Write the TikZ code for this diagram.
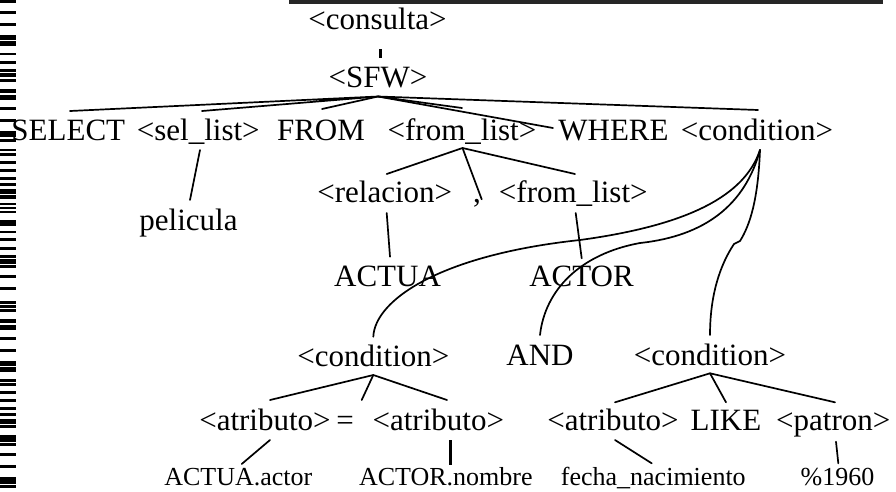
\documentclass[tikz,border=0pt]{standalone}
\usepackage{fontspec}
\setmainfont{Liberation Serif}
\begin{document}
\begin{tikzpicture}[x=1pt,y=-1pt,
  lbl/.style={inner sep=0pt,anchor=base,font=\fontsize{31}{31}\selectfont},
  small/.style={inner sep=0pt,anchor=base,font=\fontsize{26}{26}\selectfont},
  edge/.style={line width=1.7pt,line cap=round},
  bar/.style={line width=3pt}]
\useasboundingbox (0,0) rectangle (896,491);
% scan artefacts
\fill[black!85] (289,0) rectangle (883,4);
\foreach \a/\b in {0/2.7,11/13.7,22.7/25.7,35/40,41/45.7,52.7/55.3,61/64,69/71.7,72.7/77.3,79/82.3,88.7/93.3,95/100,106.7/110,118.7/122,130.7/137.3,139.3/142,148.7/151.3,153.3/156,161/164,169/172,176.7/180,182.7/185.7,189.3/194,195/198.7,202.7/205.3,206.7/209.3,211/213.3,220/226,230.7/233.3,238.3/241.3,246.7/250,255/257.7,259/264,265/267.7,275/278,286.7/289.7,301/303.7,305.3/308,309/312,319/323.3,325/330,337/340,349/352,361/365.7,367/372,379/382,383.3/386,391/393.7,399/402,406.7/409.7,412.7/415.7,419.3/424,425.3/428,435/441.7,442.7/445.7,452.7/455.7,465/468,477/484,485/488}
  \fill[black] (0,\a) rectangle (16,\b);
% nodes
\node[lbl] (cons) at (377.5,29.5) {<consulta>};
\node[lbl] (sfw) at (378,87.3) {<SFW>};
\node[lbl] (sel) at (68.3,140) {SELECT};
\node[lbl] (sellist) at (198.3,140) {<sel\_list>};
\node[lbl] (from) at (321,140) {FROM};
\node[lbl] (fl1) at (462,140) {<from\_list>};
\node[lbl] (where) at (613.5,140) {WHERE};
\node[lbl] (cond) at (757,140) {<condition>};
\node[lbl] (peli) at (188.5,230) {pelicula};
\node[lbl] (rel) at (384.8,202.7) {<relacion>};
\node[lbl] (comma) at (477,202.7) {,};
\node[lbl] (fl2) at (573.3,202.7) {<from\_list>};
\node[lbl] (actua) at (387.5,286.7) {ACTUA};
\node[lbl] (actor) at (581.5,286.7) {ACTOR};
\node[lbl] (condL) at (373.3,366) {<condition>};
\node[lbl] (and) at (540,365) {AND};
\node[lbl] (condR) at (710,365) {<condition>};
\node[lbl] (at1) at (265,430) {<atributo>};
\node[lbl] (eq) at (345,430) {=};
\node[lbl] (at2) at (438.3,430) {<atributo>};
\node[lbl] (at3) at (613,430) {<atributo>};
\node[lbl] (like) at (726,430) {LIKE};
\node[lbl] (pat) at (833.3,430) {<patron>};
\node[small] (v1) at (238.3,485.5) {ACTUA.actor};
\node[small] (v2) at (445.8,485.5) {ACTOR.nombre};
\node[small] (v3) at (653.3,485.5) {fecha\_nacimiento};
\node[small] (v4) at (837.5,485.5) {\%1960};
% connectors
\draw[bar] ([shift={(2.5,19.5)}]cons.base) -- ([shift={(2,-29)}]sfw.base);
\draw[edge] ([shift={(1.7,-29)}]sel.base) -- ([shift={(0,9.2)}]sfw.base)
  -- ([shift={(3.7,-29)}]sellist.base);
\draw[edge] ([shift={(0,9.2)}]sfw.base) -- ([shift={(1,-31)}]from.base);
\draw[edge] ([shift={(0,9.2)}]sfw.base) -- ([shift={(0,-32)}]fl1.base);
\draw[edge] ([shift={(0,9.2)}]sfw.base) -- ([shift={(-60.5,-12)}]where.base);
\draw[edge] ([shift={(0,9.2)}]sfw.base) -- ([shift={(1,-30)}]cond.base);
\draw[edge] ([shift={(1.7,10)}]sellist.base) -- ([shift={(1.5,-30)}]peli.base);
\draw[edge] ([shift={(1.9,-28.7)}]rel.base) -- ([shift={(0.5,8)}]fl1.base)
  -- ([shift={(1.7,-28.7)}]fl2.base);
\draw[edge] ([shift={(0.5,8)}]fl1.base) -- ([shift={(4.7,-3.4)}]comma.base);
\draw[edge] ([shift={(1.9,10.3)}]rel.base) -- ([shift={(2.5,-30)}]actua.base);
\draw[edge] ([shift={(2.4,10.3)}]fl2.base) -- ([shift={(0.2,-28.4)}]actor.base);
% curves from the upper <condition>
\coordinate (cs) at ([shift={(3,10)}]cond.base);
\coordinate (k1) at (580,240);
\coordinate (k2) at (640,243);
\coordinate (k3a) at (740,241);
\coordinate (k3b) at (734,244);
\draw[edge] (cs) .. controls (745,195) and (690,225) .. (k1)
  .. controls (440,255) and (375,300) .. ([shift={(0,-29.3)}]condL.base);
\draw[edge] (cs) .. controls (745,205) and (705,236) .. (k2)
  .. controls (580,254) and (545,290) .. ([shift={(0,-30)}]and.base);
\draw[edge] (cs) .. controls (758,200) and (750,225) .. (k3a) -- (k3b)
  .. controls (720,265) and (710,295) .. ([shift={(0,-30)}]condR.base);
% lower-left condition
\draw[edge] ([shift={(5,-30)}]at1.base) -- ([shift={(0,9)}]condL.base)
  -- ([shift={(8.7,-30)}]at2.base);
\draw[edge] ([shift={(0,9)}]condL.base) -- ([shift={(16.7,-30)}]eq.base);
% lower-right condition
\draw[edge] ([shift={(2,-27.7)}]at3.base) -- ([shift={(0,8.3)}]condR.base)
  -- ([shift={(1.7,-27.7)}]pat.base);
\draw[edge] ([shift={(0,8.3)}]condR.base) -- ([shift={(0,-27.7)}]like.base);
% leaves
\draw[edge] ([shift={(5,10)}]at1.base) -- ([shift={(3.4,-21.5)}]v1.base);
\draw[bar] ([shift={(11.7,10)}]at2.base) -- ([shift={(4.2,-20.5)}]v2.base);
\draw[edge] ([shift={(2,10)}]at3.base) -- ([shift={(-1.6,-22.2)}]v3.base);
\draw[edge] ([shift={(2.7,11.7)}]pat.base) -- ([shift={(0.8,-22.2)}]v4.base);
\end{tikzpicture}
\end{document}
